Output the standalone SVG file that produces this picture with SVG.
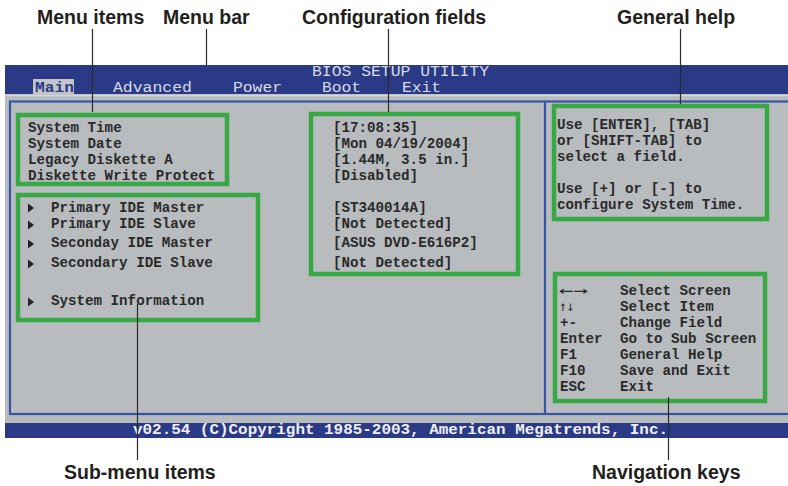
<svg xmlns="http://www.w3.org/2000/svg" width="788" height="486" viewBox="0 0 788 486">
<style>
.lbl{font-family:"Liberation Sans",Arial,sans-serif;font-weight:bold;font-size:19.5px;fill:#231f20}
.mono{font-family:"Liberation Mono","DejaVu Sans Mono",monospace;font-weight:bold;font-size:14.2px;fill:#2a2a2a}
.arr{font-family:"DejaVu Sans Mono","Liberation Mono",monospace;font-size:14px;fill:#2a2a2a}
.menu{font-family:"Liberation Mono","DejaVu Sans Mono",monospace;font-size:14.5px;fill:#d6dae6}
.foot{font-family:"Liberation Mono","DejaVu Sans Mono",monospace;font-weight:bold;font-size:15px;fill:#eef0f6}
.box{fill:none;stroke:#37a843;stroke-width:4.5}
.lead{stroke:#2a2a2a;stroke-width:1.2;fill:none}
.frame{fill:none;stroke:#3455a6;stroke-width:2.2}
</style>
<defs>
<polygon id="tri" points="0,-4.5 6,0 0,4.5" fill="#222"/>
</defs>
<rect width="788" height="486" fill="#ffffff"/>
<g id="screen">
<rect x="5" y="94" width="783" height="330" fill="#b8bcbf"/>
<line x1="5" y1="95.5" x2="788" y2="95.5" stroke="#d4d6d8" stroke-width="1.5"/>
<rect x="5" y="65" width="783" height="29" fill="#2b3a86"/>
<rect x="33" y="79" width="41" height="16" fill="#c2c5c8"/>
<rect x="5" y="423" width="783" height="15" fill="#2b3a86"/>
<rect x="10" y="101.5" width="790" height="312.5" class="frame"/>
<line x1="545" y1="101" x2="545" y2="414" stroke="#3455a6" stroke-width="2.2"/>
<text x="312" y="76" class="menu" textLength="177" lengthAdjust="spacingAndGlyphs">BIOS SETUP UTILITY</text>
<text x="35" y="92" class="menu" style="fill:#2b3a86;font-weight:bold" textLength="39" lengthAdjust="spacingAndGlyphs">Main</text>
<text x="113" y="92" class="menu" textLength="79" lengthAdjust="spacingAndGlyphs">Advanced</text>
<text x="233" y="92" class="menu" textLength="49" lengthAdjust="spacingAndGlyphs">Power</text>
<text x="322" y="92" class="menu" textLength="39" lengthAdjust="spacingAndGlyphs">Boot</text>
<text x="402" y="92" class="menu" textLength="39" lengthAdjust="spacingAndGlyphs">Exit</text>
<text x="133" y="434" class="foot" textLength="535" lengthAdjust="spacingAndGlyphs">v02.54 (C)Copyright 1985-2003, American Megatrends, Inc.</text>
</g>
<g id="menu-items">
<rect x="18" y="115" width="209" height="69" class="box"/>
<text class="mono" x="28" y="132">System Time</text>
<text class="mono" x="28" y="148">System Date</text>
<text class="mono" x="28" y="164">Legacy Diskette A</text>
<text class="mono" x="28" y="180">Diskette Write Protect</text>
</g>
<g id="sub-menu-items">
<rect x="18" y="195" width="240" height="125" class="box"/>
<use href="#tri" x="28" y="208"/>
<use href="#tri" x="28" y="225"/>
<use href="#tri" x="28" y="244"/>
<use href="#tri" x="28" y="264"/>
<use href="#tri" x="28" y="302"/>
<text class="mono" x="51" y="212">Primary IDE Master</text>
<text class="mono" x="51" y="228">Primary IDE Slave</text>
<text class="mono" x="51" y="247">Seconday IDE Master</text>
<text class="mono" x="51" y="267">Secondary IDE Slave</text>
<text class="mono" x="51" y="305">System Information</text>
</g>
<g id="configuration-fields">
<rect x="311" y="114" width="207" height="160" class="box"/>
<text class="mono" x="333" y="132">[17:08:35]</text>
<text class="mono" x="333" y="148">[Mon 04/19/2004]</text>
<text class="mono" x="333" y="164">[1.44M, 3.5 in.]</text>
<text class="mono" x="333" y="180">[Disabled]</text>
<text class="mono" x="333" y="212">[ST340014A]</text>
<text class="mono" x="333" y="228">[Not Detected]</text>
<text class="mono" x="333" y="247">[ASUS DVD-E616P2]</text>
<text class="mono" x="333" y="267">[Not Detected]</text>
</g>
<g id="general-help">
<rect x="554" y="106" width="213" height="113" class="box"/>
<text class="mono" x="557" y="129">Use [ENTER], [TAB]</text>
<text class="mono" x="557" y="145">or [SHIFT-TAB] to</text>
<text class="mono" x="557" y="161">select a field.</text>
<text class="mono" x="557" y="193">Use [+] or [-] to</text>
<text class="mono" x="557" y="209">configure System Time.</text>
</g>
<g id="navigation-keys">
<rect x="555" y="274" width="210" height="127" class="box"/>
<text class="arr" x="559" y="295" textLength="29" lengthAdjust="spacingAndGlyphs">←→</text>
<text class="arr" x="559" y="311" textLength="15" lengthAdjust="spacingAndGlyphs">↑↓</text>
<text class="mono" x="560" y="327">+-</text>
<text class="mono" x="560" y="343">Enter</text>
<text class="mono" x="560" y="359">F1</text>
<text class="mono" x="560" y="375">F10</text>
<text class="mono" x="560" y="391">ESC</text>
<text class="mono" x="620" y="295">Select Screen</text>
<text class="mono" x="620" y="311">Select Item</text>
<text class="mono" x="620" y="327">Change Field</text>
<text class="mono" x="620" y="343">Go to Sub Screen</text>
<text class="mono" x="620" y="359">General Help</text>
<text class="mono" x="620" y="375">Save and Exit</text>
<text class="mono" x="620" y="391">Exit</text>
</g>
<g id="labels">
<text class="lbl" x="37" y="24">Menu items</text>
<text class="lbl" x="163" y="24">Menu bar</text>
<text class="lbl" x="302" y="24">Configuration fields</text>
<text class="lbl" x="617" y="24">General help</text>
<text class="lbl" x="64" y="479">Sub-menu items</text>
<text class="lbl" x="592" y="479">Navigation keys</text>
</g>
<g id="connectors">
<line class="lead" x1="92.5" y1="29" x2="92.5" y2="112"/>
<line class="lead" x1="206.5" y1="29" x2="206.5" y2="65"/>
<line class="lead" x1="388.5" y1="29" x2="388.5" y2="112"/>
<line class="lead" x1="680.5" y1="29" x2="680.5" y2="104"/>
<line class="lead" x1="137.5" y1="304" x2="137.5" y2="460"/>
<line class="lead" x1="668.5" y1="397" x2="668.5" y2="460"/>
</g>
</svg>
